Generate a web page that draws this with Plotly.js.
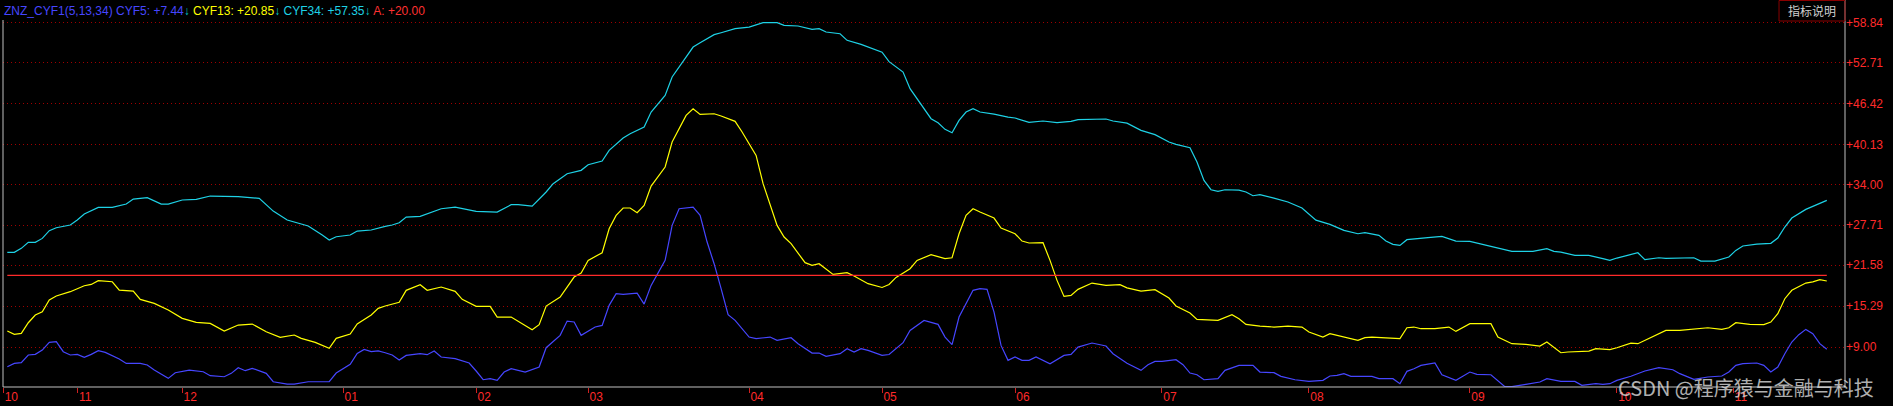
<!DOCTYPE html>
<html>
<head>
<meta charset="utf-8">
<script src="https://cdn.plot.ly/plotly-3.0.1.min.js"></script>
<style>
html,body{margin:0;padding:0;background:#000;}
#chart{width:1893px;height:406px;}
</style>
</head>
<body>
<div id="chart"></div>
<script>
// ---- data (trading-day index, value) ----
const cyf5 = [[0,5.97],[1,6.48],[2,6.59],[3,7.77],[4,7.87],[5,8.53],[6,9.71],[7,9.81],[8,8.28],[9,7.77],[10,7.87],[11,7.41],[12,7.87],[13,8.43],[14,8.18],[16,7.16],[17,6.48],[19,6.48],[20,6.23],[21,5.46],[23,4.18],[24,5.05],[26,5.46],[28,5.2],[29,4.59],[31,4.43],[32,4.95],[33,5.82],[34,5.36],[35,5.72],[37,4.95],[38,3.66],[40,3.31],[41,3.31],[43,3.66],[45,3.66],[46,3.66],[47,5.0],[49,6.33],[50,8.02],[51,8.63],[52,8.28],[53,8.4],[54,8.12],[55,7.77],[56,7.0],[57,7.71],[59,7.97],[60,7.82],[61,8.38],[62,7.46],[64,7.2],[66,6.54],[67,5.31],[68,3.97],[69,4.13],[70,3.87],[71,5.15],[72,5.66],[74,5.15],[76,5.92],[77,8.89],[79,10.79],[80,12.99],[81,12.84],[82,10.79],[84,12.07],[85,12.32],[86,15.4],[87,17.19],[88,17.09],[90,17.29],[91,15.6],[92,18.47],[94,22.31],[95,27.69],[96,30.25],[98,30.51],[99,29.23],[100,25.13],[101,21.8],[102,17.96],[103,13.96],[104,13.09],[105,11.81],[106,10.53],[107,10.28],[109,10.53],[110,10.02],[112,10.43],[113,9.51],[115,8.07],[116,8.07],[117,7.56],[119,7.97],[120,8.74],[121,8.23],[122,8.74],[123,8.48],[125,7.71],[126,7.85],[128,9.66],[129,11.55],[131,13.09],[133,12.48],[134,10.53],[135,9.35],[136,13.6],[138,17.71],[139,17.96],[140,17.86],[141,14.37],[142,9.25],[143,6.95],[144,7.46],[145,6.95],[146,6.95],[147,7.46],[149,6.43],[151,7.71],[152,7.87],[153,8.99],[155,9.61],[157,9.15],[158,7.97],[160,6.5],[162,5.41],[163,6.28],[164,6.79],[165,6.79],[167,7.05],[168,6.28],[169,5.0],[170,4.74],[171,3.97],[173,4.13],[174,5.41],[176,6.18],[178,6.18],[179,5.15],[181,5.05],[182,4.49],[184,3.97],[186,3.72],[188,3.87],[189,4.54],[190,4.64],[191,4.9],[192,4.49],[195,4.49],[196,4.15],[198,4.13],[199,3.36],[200,5.26],[201,5.66],[202,6.18],[204,6.54],[205,4.74],[207,3.87],[209,5.15],[210,4.79],[212,4.74],[214,2.9],[215,2.9],[217,3.26],[219,3.62],[220,4.13],[222,3.72],[224,3.72],[225,3.1],[227,3.36],[228,3.26],[229,3.36],[230,3.87],[232,4.5],[234,5.31],[236,5.82],[238,5.51],[239,4.9],[241,4.03],[243,4.39],[245,4.54],[246,5.15],[247,6.18],[248,6.43],[250,6.54],[251,6.18],[252,5.15],[253,5.92],[254,7.97],[255,9.76],[256,10.89],[257,11.71],[258,11.04],[259,9.51],[260,8.64]];

const cyf13 = [[0,11.45],[1,10.94],[2,11.1],[3,12.73],[4,13.91],[5,14.42],[6,16.22],[7,16.83],[9,17.5],[11,18.42],[12,18.62],[13,19.19],[15,19.03],[16,17.75],[18,17.6],[19,16.32],[21,15.71],[23,14.68],[25,13.4],[27,12.78],[29,12.63],[31,11.45],[33,12.37],[35,12.53],[37,11.35],[39,10.48],[41,10.84],[42,10.33],[44,9.71],[46,8.79],[47,10.33],[49,10.99],[50,12.53],[52,13.91],[53,14.94],[54,15.3],[56,15.88],[57,17.71],[59,18.57],[60,17.71],[62,18.22],[64,17.55],[65,16.32],[67,15.24],[69,15.24],[70,13.6],[72,13.6],[73,12.94],[75,11.66],[76,12.43],[77,15.29],[79,16.68],[81,19.75],[82,20.37],[83,22.31],[85,23.49],[86,27.18],[87,29.23],[88,30.36],[89,30.36],[90,29.64],[91,30.77],[92,33.74],[94,36.66],[95,40.5],[97,44.6],[98,45.62],[99,44.75],[101,44.85],[102,44.5],[104,43.68],[105,42.04],[106,40.27],[107,38.45],[108,34.1],[109,31.02],[110,27.69],[111,25.9],[112,24.88],[114,21.96],[115,21.55],[116,21.8],[118,20.16],[120,20.42],[121,19.91],[123,18.73],[125,18.15],[126,18.6],[127,19.7],[129,21.03],[130,22.31],[132,23.18],[134,22.57],[135,22.72],[136,26.41],[137,29.23],[138,30.25],[139,29.74],[141,28.82],[142,27.28],[144,26.41],[145,25.28],[146,24.98],[148,25.03],[149,22.31],[150,19.24],[151,16.78],[152,16.93],[153,17.86],[155,18.83],[157,18.47],[159,18.57],[160,18.08],[162,17.6],[164,17.81],[166,16.52],[167,15.3],[169,14.22],[170,13.25],[173,13.09],[175,13.96],[176,13.35],[177,12.48],[179,12.22],[181,12.07],[183,12.22],[185,12.07],[186,11.3],[188,10.53],[189,11.04],[190,10.79],[192,10.28],[193,10.02],[194,10.43],[195,10.53],[197,10.4],[199,10.28],[200,11.96],[201,12.07],[202,11.81],[204,11.81],[206,12.07],[207,11.4],[209,12.58],[212,12.58],[213,10.53],[215,9.51],[217,9.4],[219,9.15],[220,9.76],[222,8.12],[223,8.23],[226,8.38],[227,8.74],[229,8.59],[230,8.89],[232,9.6],[233,9.51],[234,10.02],[236,11.04],[237,11.55],[239,11.55],[241,11.81],[243,11.96],[245,11.71],[246,11.96],[247,12.73],[249,12.48],[251,12.43],[252,12.84],[253,14.12],[254,16.42],[255,17.71],[257,18.83],[258,19.0],[259,19.34],[260,19.14]];

const cyf34 = [[0,23.54],[1,23.54],[2,24.16],[3,25.08],[4,25.08],[5,25.69],[6,26.87],[7,27.33],[9,27.74],[10,28.51],[11,29.43],[13,30.46],[15,30.46],[17,30.97],[18,31.74],[20,31.94],[22,30.97],[23,30.97],[25,31.59],[27,31.69],[29,32.2],[31,32.2],[33,32.1],[36,31.84],[37,30.82],[38,29.89],[40,28.51],[42,27.9],[43,27.59],[45,26.21],[46,25.43],[47,25.95],[49,26.21],[50,26.82],[52,26.98],[54,27.55],[55,27.75],[56,28.1],[57,28.97],[59,29.07],[62,30.25],[64,30.51],[67,29.84],[70,29.74],[72,30.87],[73,30.87],[75,30.66],[77,32.82],[78,34.1],[80,35.63],[82,36.15],[83,37.02],[85,37.58],[86,39.22],[88,41.11],[89,41.78],[91,42.81],[92,45.11],[94,47.67],[95,50.49],[97,53.56],[98,55.1],[99,55.77],[101,57.0],[102,57.3],[104,57.92],[106,58.17],[108,58.84],[110,58.84],[111,58.43],[113,58.33],[115,57.82],[116,57.92],[117,57.41],[119,57.15],[120,56.13],[122,55.51],[123,55.1],[125,54.3],[126,52.85],[128,51.26],[129,48.7],[131,45.52],[132,44.09],[133,43.47],[134,42.45],[135,41.93],[136,43.83],[137,45.11],[138,45.62],[139,45.11],[141,44.8],[143,44.34],[144,44.19],[146,43.52],[148,43.73],[150,43.47],[152,43.68],[153,43.93],[157,44.04],[158,43.73],[160,43.4],[162,42.29],[164,41.63],[166,40.5],[167,40.15],[169,39.63],[170,37.43],[171,34.61],[172,33.17],[173,32.92],[174,33.17],[176,33.12],[177,32.82],[178,32.25],[179,32.41],[181,31.89],[183,31.28],[185,30.36],[186,29.38],[187,28.5],[189,27.85],[191,26.92],[193,26.41],[194,26.57],[196,26.16],[197,25.3],[198,24.77],[199,24.62],[200,25.49],[202,25.64],[203,25.8],[205,26.0],[207,25.28],[209,25.23],[211,24.72],[213,24.21],[215,23.7],[218,23.7],[220,24.11],[221,23.7],[222,23.59],[224,23.08],[226,23.08],[228,22.57],[229,22.31],[230,22.67],[232,23.15],[233,23.49],[234,22.42],[236,22.72],[237,22.62],[239,22.62],[241,22.72],[242,22.21],[244,22.21],[246,22.83],[247,23.85],[248,24.52],[250,24.82],[252,24.93],[253,25.75],[254,27.44],[255,28.82],[257,30.15],[258,30.61],[260,31.53]];

const aLevel = 20.00;
const aDays = [0, 260];

const monthPos = [-0.57, 10, 25, 48, 67, 83, 106, 125, 144, 165, 186, 209, 230, 246.6];
const monthLabels = ['10','11','12','01','02','03','04','05','06','07','08','09','10','11'];

const yTickVals = [9.00, 15.29, 21.58, 27.71, 34.00, 40.13, 46.42, 52.71, 58.84];
const yTickText = yTickVals.map(v => '+' + v.toFixed(2));

const legendParts = [
  {text: 'ZNZ_CYF1(5,13,34) CYF5: +7.44', color: '#4646ff'},
  {text: '↓', color: '#00c8c8'},
  {text: ' CYF13: +20.85', color: '#ffff00'},
  {text: '↓', color: '#00c8c8'},
  {text: ' CYF34: +57.35', color: '#1ed2e6'},
  {text: '↓', color: '#00c8c8'},
  {text: ' A: +20.00', color: '#ff3030'}
];

// ---- geometry ----
const W = 1893, H = 406;
const plotL = 3, plotR = 1845.5, plotT = 20, plotB = 387;
const pw = plotR - plotL, ph = plotB - plotT;
const py = Y => (plotB - Y) / ph;          // figure px -> paper y
const pxp = X => (X - plotL) / pw;         // figure px -> paper x

const font = '"Liberation Sans", Arial, sans-serif';
const cjk = '"Noto Sans CJK SC", "Liberation Sans", sans-serif';

const traces = [
  {x: cyf34.map(p => p[0]), y: cyf34.map(p => p[1]), mode: 'lines', line: {color: '#1ed2e6', width: 1.2}, name: 'CYF34'},
  {x: cyf13.map(p => p[0]), y: cyf13.map(p => p[1]), mode: 'lines', line: {color: '#ffff00', width: 1.2}, name: 'CYF13'},
  {x: cyf5.map(p => p[0]), y: cyf5.map(p => p[1]), mode: 'lines', line: {color: '#4646ff', width: 1.2}, name: 'CYF5'},
  {x: aDays, y: aDays.map(() => aLevel), mode: 'lines', line: {color: '#ff2a2a', width: 1.3}, name: 'A'}
];

const layout = {
  width: W, height: H,
  paper_bgcolor: '#000', plot_bgcolor: '#000',
  margin: {l: plotL, r: W - plotR, t: plotT, b: H - plotB, pad: 0},
  showlegend: false,
  font: {family: font, color: '#ff3030', size: 12},
  xaxis: {
    range: [(plotL - 7.3) / 7, (plotR - 7.3) / 7],
    tickvals: monthPos, ticktext: monthLabels,
    ticks: 'outside', ticklen: 5, tickwidth: 1, tickcolor: '#d02020',
    ticklabelshift: 8, ticklabelstandoff: -6,
    tickfont: {family: font, size: 12, color: '#ff2a2a'},
    showgrid: false, zeroline: false, showline: false, fixedrange: true
  },
  yaxis: {
    side: 'right',
    range: [2.853, 59.255],
    tickvals: yTickVals, ticktext: yTickText,
    ticks: '', 
    tickfont: {family: font, size: 12, color: '#ff2a2a'},
    showgrid: true, gridcolor: '#a00000', gridwidth: 1, griddash: '1px,3px',
    zeroline: false, showline: false, fixedrange: true
  },
  shapes: [
    {type: 'line', xref: 'paper', yref: 'paper', x0: 0, x1: 0, y0: 0, y1: 1, line: {color: '#c0c0c0', width: 1}},
    {type: 'line', xref: 'paper', yref: 'paper', x0: 0, x1: 1, y0: 0, y1: 0, line: {color: '#c0c0c0', width: 1}},
    {type: 'line', xref: 'paper', yref: 'paper', x0: 1, x1: 1, y0: 0, y1: py(0), line: {color: '#c0c0c0', width: 1}},
    {type: 'rect', xref: 'paper', yref: 'paper', x0: pxp(1779.5), x1: 1, y0: py(21), y1: py(0.5), line: {color: '#8a0000', width: 1}, fillcolor: 'rgba(0,0,0,0)'}
  ],
  annotations: [
    {xref: 'paper', yref: 'paper', x: pxp(3), y: py(0), xanchor: 'left', yanchor: 'top', showarrow: false,
     yshift: -3, borderpad: 0,
     text: legendParts.map(p => '<span style="color:' + p.color + '">' + p.text + '</span>').join(''),
     font: {family: font, size: 12, color: '#4646ff'}},
    {xref: 'paper', yref: 'paper', x: pxp(1812.5), y: py(10.8), xanchor: 'center', yanchor: 'middle', showarrow: false,
     text: '指标说明', font: {family: cjk, size: 12, color: '#d0d0d0'}},
    {xref: 'paper', yref: 'paper', x: pxp(1877), y: py(387), xanchor: 'right', yanchor: 'middle', showarrow: false,
     text: 'CSDN @程序猿与金融与科技', font: {family: cjk, size: 20, color: 'rgba(225,225,225,0.78)'}}
  ]
};

Plotly.newPlot('chart', traces, layout, {displayModeBar: false, staticPlot: true});
</script>
</body>
</html>
